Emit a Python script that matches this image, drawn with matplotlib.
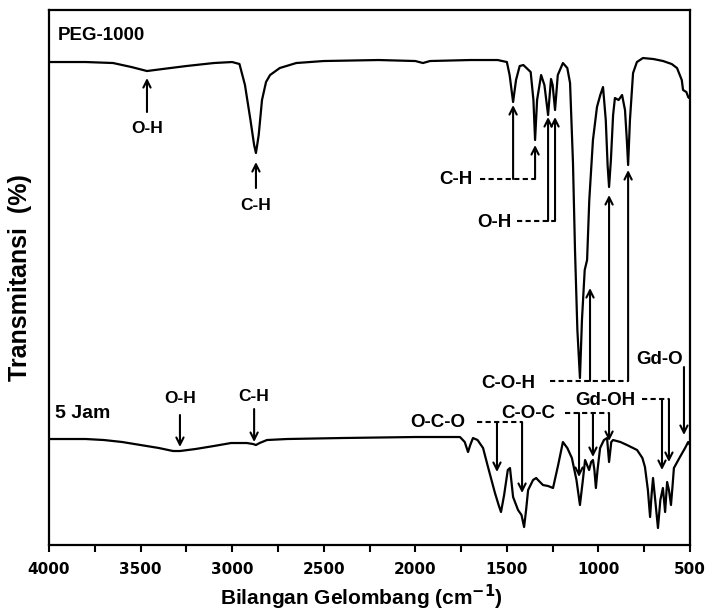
import matplotlib.pyplot as plt
from matplotlib.ticker import MultipleLocator

plt.rcParams['font.family'] = ['Liberation Sans', 'DejaVu Sans']
plt.rcParams['font.weight'] = 'bold'

# PEG-1000 spectrum (wavenumber, transmittance in arbitrary units)
peg_wn = [4000, 3800, 3650, 3550, 3465, 3380, 3250, 3100, 3000, 2960, 2930, 2900,
          2880, 2870, 2855, 2837, 2815, 2793, 2740, 2650, 2500, 2200, 2000, 1958,
          1920, 1700, 1550, 1500, 1485, 1466, 1450, 1430, 1410, 1370, 1355, 1346,
          1335, 1313, 1295, 1275, 1259, 1250, 1237, 1222, 1194, 1170, 1155, 1139,
          1128, 1115, 1101, 1090, 1075, 1062, 1050, 1030, 1008, 990, 975, 960,
          950, 942, 932, 920, 910, 890, 871, 855, 845, 838, 828, 811, 790, 757,
          700, 647, 600, 571, 545, 538, 520, 510, 505, 500]
peg_t = [483, 483, 482, 478, 474, 476, 479, 482, 483, 481, 460, 425,
         400, 392, 410, 445, 463, 470, 477, 482, 484, 485, 484, 482,
         484, 485, 485, 483, 470, 443, 465, 479, 480, 473, 445, 405,
         445, 470, 460, 430, 466, 460, 435, 470, 482, 477, 462, 382,
         295, 215, 167, 225, 275, 285, 345, 405, 438, 450, 458, 425,
         380, 358, 385, 430, 447, 445, 450, 435, 405, 380, 425, 472, 483, 487,
         486, 484, 481, 477, 465, 455, 453, 448, 447, 449]

# 5 Jam spectrum
jam_wn = [4000, 3800, 3700, 3600, 3500, 3400, 3323, 3285, 3200, 3100, 3006, 2920,
          2886, 2870, 2850, 2810, 2700, 2400, 2000, 1800, 1756, 1730, 1712, 1700,
          1685, 1660, 1630, 1603, 1565, 1545, 1532, 1515, 1495, 1483, 1466, 1439,
          1420, 1406, 1395, 1384, 1357, 1340, 1330, 1303, 1275, 1248, 1220, 1194,
          1170, 1145, 1120, 1101, 1085, 1073, 1062, 1051, 1040, 1030, 1022, 1014,
          1005, 991, 970, 953, 942, 930, 920, 880, 844, 789, 760, 746, 730, 718,
          710, 702, 690, 675, 662, 648, 636, 625, 615, 604, 595, 588, 555, 527,
          510, 500]
jam_px = [439, 439, 440, 442, 445, 448, 451, 451, 449, 446, 443, 443,
          444, 445, 443, 440, 439, 438, 437, 437, 437, 442, 452, 445,
          438, 440, 448, 467, 493, 505, 512, 495, 470, 468, 497, 510,
          515, 527, 510, 490, 480, 478, 480, 485, 486, 488, 465, 442,
          448, 458, 480, 505, 480, 460, 465, 470, 462, 460, 470, 488,
          470, 448, 440, 438, 462, 442, 440, 442, 445, 450, 458, 467, 490, 517,
          495, 478, 500, 528, 500, 488, 512, 482, 490, 505, 485, 468, 457, 448,
          442, 445]
jam_t = [545 - p for p in jam_px]

fig = plt.figure(figsize=(7.08, 6.15), dpi=100)
ax = fig.add_axes([0.0692, 0.1138, 0.9054, 0.8699])

ax.plot(peg_wn, peg_t, color='black', lw=1.6)
ax.plot(jam_wn, jam_t, color='black', lw=1.6)

ax.set_xlim(4000, 500)
ax.set_ylim(0, 535)
ax.xaxis.set_major_locator(MultipleLocator(500))
ax.xaxis.set_minor_locator(MultipleLocator(250))
ax.tick_params(axis='x', which='both', direction='out', length=5, width=1.5, pad=7)
ax.set_yticks([])
for lbl in ax.get_xticklabels():
    lbl.set_fontfamily('DejaVu Sans')
    lbl.set_fontweight('bold')
    lbl.set_fontsize(11)
for s in ax.spines.values():
    s.set_linewidth(1.6)

ax.set_xlabel('Bilangan Gelombang (cm$^{\\mathbf{-1}}$)', fontsize=15, fontweight='bold')
ax.set_ylabel('Transmitansi  (%)', fontsize=18, fontweight='bold')
ax.xaxis.set_label_coords(0.487, -0.071)
ax.yaxis.set_label_coords(-0.026, 0.5)

fs_small = 12.5
fs = 13.5
arrow = dict(arrowstyle='->', lw=1.5, color='black', shrinkA=0, shrinkB=0,
             mutation_scale=13)
dash = (0, (2.5, 1.6))

ax.text(3951, 510, 'PEG-1000', fontsize=13.5, fontweight='bold', va='center')
ax.text(3967, 132, '5 Jam', fontsize=14, fontweight='bold', va='center')


def up_arrow(x, y0, y1):
    ax.annotate('', xy=(x, y1), xytext=(x, y0), arrowprops=arrow)


# simple labelled arrows
for x, tip, tail, ly, lab in [(3465, 467, 433, 417, 'O-H'), (2870, 383, 357, 340, 'C-H'),
                              (3285, 98, 130, 147, 'O-H'), (2880, 103, 136, 149, 'C-H')]:
    up_arrow(x, tail, tip)
    ax.text(x, ly, lab, fontsize=fs_small, ha='center', va='center')


def group(label, lx, ly, x0, x1, yd, tips):
    ax.text(lx, ly, label, fontsize=fs, ha='right', va='center')
    ax.plot([x0, x1], [yd, yd], color='black', lw=1.5, ls=dash)
    for x, tip in tips:
        up_arrow(x, yd, tip)


group('C-H', 1685, 366, 1647, 1346, 366, [(1466, 440), (1346, 400)])
group('O-H', 1472, 323, 1445, 1237, 324, [(1275, 428), (1237, 428)])
group('C-O-H', 1346, 162, 1264, 838, 164, [(1046, 257), (942, 350), (838, 375)])
group('O-C-O', 1728, 123, 1663, 1417, 123, [(1554, 73), (1417, 52)])
group('C-O-C', 1237, 132, 1183, 942, 132, [(1106, 68), (1030, 88), (942, 104)])
group('Gd-OH', 800, 145, 762, 615, 146, [(653, 75), (615, 83)])

ax.text(664, 186, 'Gd-O', fontsize=fs, ha='center', va='center')
up_arrow(533, 178, 110)

fig.savefig('out.png', dpi=100)
